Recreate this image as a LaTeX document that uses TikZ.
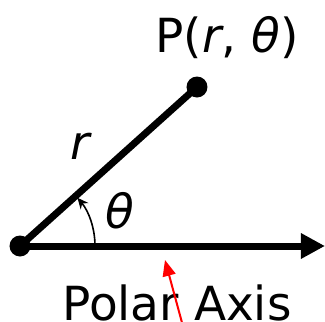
\documentclass[tikz,border=0pt]{standalone}
\usepackage{fontspec}
\setmainfont{DejaVu Sans}
\usetikzlibrary{arrows.meta,calc}
\begin{document}
\begin{tikzpicture}[x=1pt,y=-1pt,
  thick line/.style={line width=7pt},
  dotnode/.style={circle,fill=black,inner sep=0pt,minimum size=21pt},
  lbl/.style={inner sep=0pt,font=\fontsize{47}{50}\selectfont},
  anglearrow/.style={line width=1.6pt,-{Stealth[length=11pt,width=10pt]}},
  redarrow/.style={red,line width=2pt,-{Triangle[length=16pt,width=13pt]}}]
\useasboundingbox (0,0) rectangle (325,322);
\coordinate (O) at (20,246);
\coordinate (axend) at (325,246);
\coordinate (redtail) at (184,330);
\coordinate (redtip) at (165,260);
\draw[thick line] (O) -- (197,87) coordinate (Pc);
\draw[thick line,-{Triangle[length=24pt,width=24pt]}] (O) -- (axend);
\node[dotnode] (Odot) at (O) {};
\node[dotnode] (Pdot) at (Pc) {};
\draw[anglearrow] ($(O)+(75,0)$) arc[start angle=0,end angle=-40,radius=75];
\node[lbl,anchor=base] (Plab) at (227,52) {P(\textit{r}, \textit{θ})};
\node[lbl] (rlab) at (81,146) {\textit{r}};
\node[lbl] (thlab) at (120,211) {\textit{θ}};
\node[lbl,anchor=base] (axlab) at (177,320) {Polar Axis};
\draw[redarrow] (redtail) -- (redtip);
\end{tikzpicture}
\end{document}
